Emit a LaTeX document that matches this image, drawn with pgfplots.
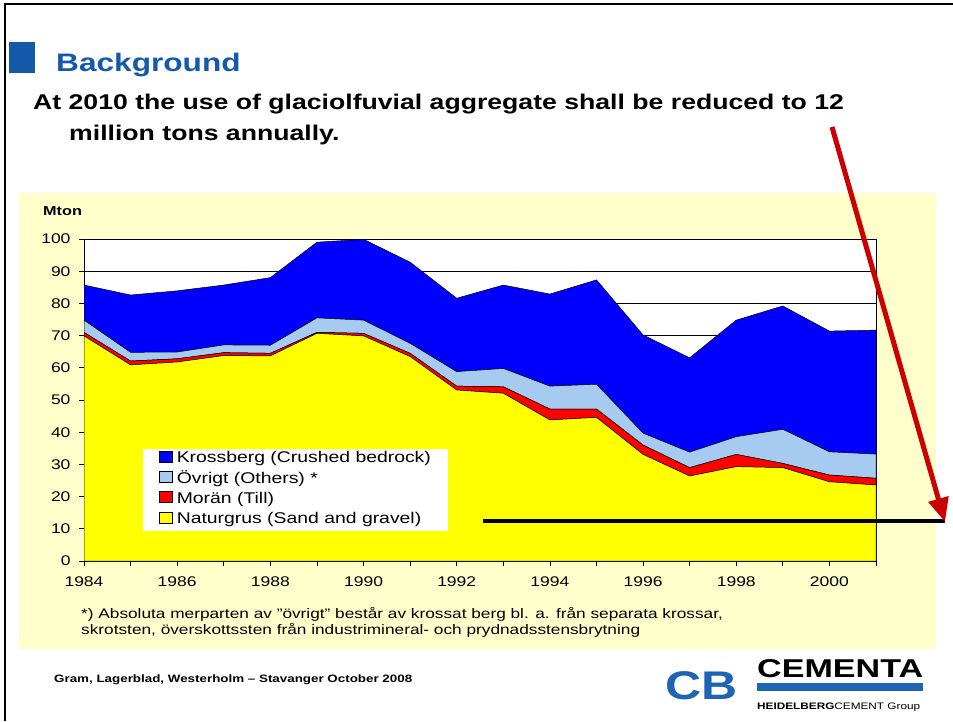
\documentclass[border=0pt]{standalone}
\usepackage{fontspec}
\setmainfont{Liberation Sans}[FakeStretch=1.25]
\usepackage{graphicx}
\usepackage{pgfplots}
\pgfplotsset{compat=1.18}
\usepackage{pgfplotstable}
\usetikzlibrary{arrows.meta}

\definecolor{titleblue}{RGB}{20,90,170}
\definecolor{panelyellow}{RGB}{255,255,204}
\definecolor{cYellow}{RGB}{255,255,0}
\definecolor{cRed}{RGB}{255,0,0}
\definecolor{cLight}{RGB}{166,202,240}
\definecolor{cBlue}{RGB}{0,0,255}
\definecolor{arrowred}{RGB}{204,0,0}
\definecolor{logoblue}{RGB}{30,100,180}

\pgfplotstableread{
year N M O K
1984 69.9 1.1 3.8 10.9
1985 60.9 1.2 2.7 17.8
1986 61.8 1.0 2.1 19.0
1987 63.8 0.9 2.4 18.6
1988 63.7 0.8 2.5 21.0
1989 70.7 0.3 4.5 23.5
1990 69.9 0.8 4.1 25.1
1991 63.5 1.0 3.1 25.2
1992 53.1 1.2 4.5 22.8
1993 52.1 2.0 5.7 25.9
1994 43.8 3.4 7.1 28.6
1995 44.6 2.6 7.7 32.4
1996 33.1 2.9 3.7 30.5
1997 26.4 2.6 4.8 29.3
1998 29.3 3.8 5.5 36.2
1999 29.0 1.3 10.6 38.3
2000 24.6 2.1 7.2 37.5
2001 23.6 2.1 7.5 38.5
}\data

\begin{document}
\begin{tikzpicture}
\useasboundingbox (0pt,0pt) rectangle (953pt,721pt);
% panel
\fill[panelyellow] (19pt,72pt) rectangle (936pt,528pt);
% slide frame
\draw[line width=2.5pt] (5pt,0pt) -- (5pt,717pt) -- (953pt,717pt);
% title
\fill[titleblue] (9pt,679pt) rectangle (35pt,648pt);
\node[anchor=base west, inner sep=0, text=titleblue, font=\bfseries\fontsize{25.3}{30}\selectfont] at (56pt,649pt) {Background};
\node[anchor=base west, inner sep=0, font=\bfseries\fontsize{21.3}{26}\selectfont] at (33pt,611pt) {At 2010 the use of glaciolfuvial aggregate shall be reduced to 12};
\node[anchor=base west, inner sep=0, font=\bfseries\fontsize{21.3}{26}\selectfont] at (69pt,580pt) {million tons annually.};
% Mton
\node[anchor=base west, inner sep=0, font=\bfseries\fontsize{13}{15}\selectfont] at (43pt,505pt) {Mton};

\begin{axis}[
  at={(84pt,160pt)}, anchor=south west,
  width=792pt, height=322pt, scale only axis,
  xmin=1984, xmax=2001, ymin=0, ymax=100,
  stack plots=y,
  axis background/.style={fill=white},
  xtick={1984,1986,...,2000},
  minor xtick={1985,1987,...,2001},
  ytick={0,10,...,100},
  ymajorgrids,
  grid style={black, line width=0.8pt},
  tick align=outside, tick pos=left,
  major tick length=5pt, minor tick length=5pt,
  tick style={black, line width=0.8pt},
  axis line style={black, line width=0.9pt},
  ticklabel style={font=\fontsize{14}{16}\selectfont},
  yticklabel style={xshift=-5pt},
  xticklabel style={yshift=-7pt},
  /pgf/number format/assume math mode=true,
  /pgf/number format/1000 sep={},
  legend style={at={(0.0745,0.093)}, anchor=south west, draw=none, fill=white,
     font=\fontsize{15.5}{18}\selectfont, inner xsep=16pt, inner ysep=2pt, row sep=3pt,
     nodes={inner xsep=1pt, inner ysep=1pt, text height=11pt, text depth=4pt},
     /tikz/every odd column/.append style={column sep=3pt}},
  legend cell align=left,
  reverse legend,
  legend image code/.code={\draw[#1, draw=black, line width=0.6pt] (0pt,-2.5pt) rectangle (13pt,8.5pt);},
]
\addplot[fill=cYellow, draw=black, line width=0.5pt] table[x=year,y=N]{\data} \closedcycle;
\addlegendentry{Naturgrus (Sand and gravel)}
\addplot[fill=cRed, draw=black, line width=0.5pt] table[x=year,y=M]{\data} \closedcycle;
\addlegendentry{Morän (Till)}
\addplot[fill=cLight, draw=black, line width=0.5pt] table[x=year,y=O]{\data} \closedcycle;
\addlegendentry{Övrigt (Others) *}
\addplot[fill=cBlue, draw=black, line width=0.5pt] table[x=year,y=K]{\data} \closedcycle;
\addlegendentry{Krossberg (Crushed bedrock)}
\end{axis}

% 12 Mton target line and arrow
\draw[line width=4pt] (483pt,200pt) -- (945pt,200pt);
\draw[line width=5pt, arrowred, -{Triangle[length=24pt,width=20pt]}] (832pt,594pt) -- (945pt,199pt);

% footnote
\node[anchor=base west, inner sep=0, font=\fontsize{13.8}{16}\selectfont] at (81pt,103pt) {*) Absoluta merparten av "övrigt" består av krossat berg bl. a. från separata krossar,};
\node[anchor=base west, inner sep=0, font=\fontsize{13.8}{16}\selectfont] at (81pt,87pt) {skrotsten, överskottssten från industrimineral- och prydnadsstensbrytning};
% footer
\node[anchor=base west, inner sep=0, font=\bfseries\fontsize{10.7}{13}\selectfont] at (54pt,39pt) {Gram, Lagerblad, Westerholm -- Stavanger October 2008};
% logos
\node[anchor=center, inner sep=0, text=logoblue, font=\bfseries\fontsize{40}{40}\selectfont] at (702pt,35pt) {CB};
\node[anchor=south west, inner sep=0] at (757pt,43pt) {\resizebox{166pt}{18pt}{\bfseries CEMENTA}};
\fill[logoblue] (757pt,30pt) rectangle (923pt,38pt);
\node[anchor=south west, inner sep=0] at (757pt,9pt) {\resizebox{163pt}{!}{\textbf{HEIDELBERG}CEMENT Group}};
\end{tikzpicture}
\end{document}
